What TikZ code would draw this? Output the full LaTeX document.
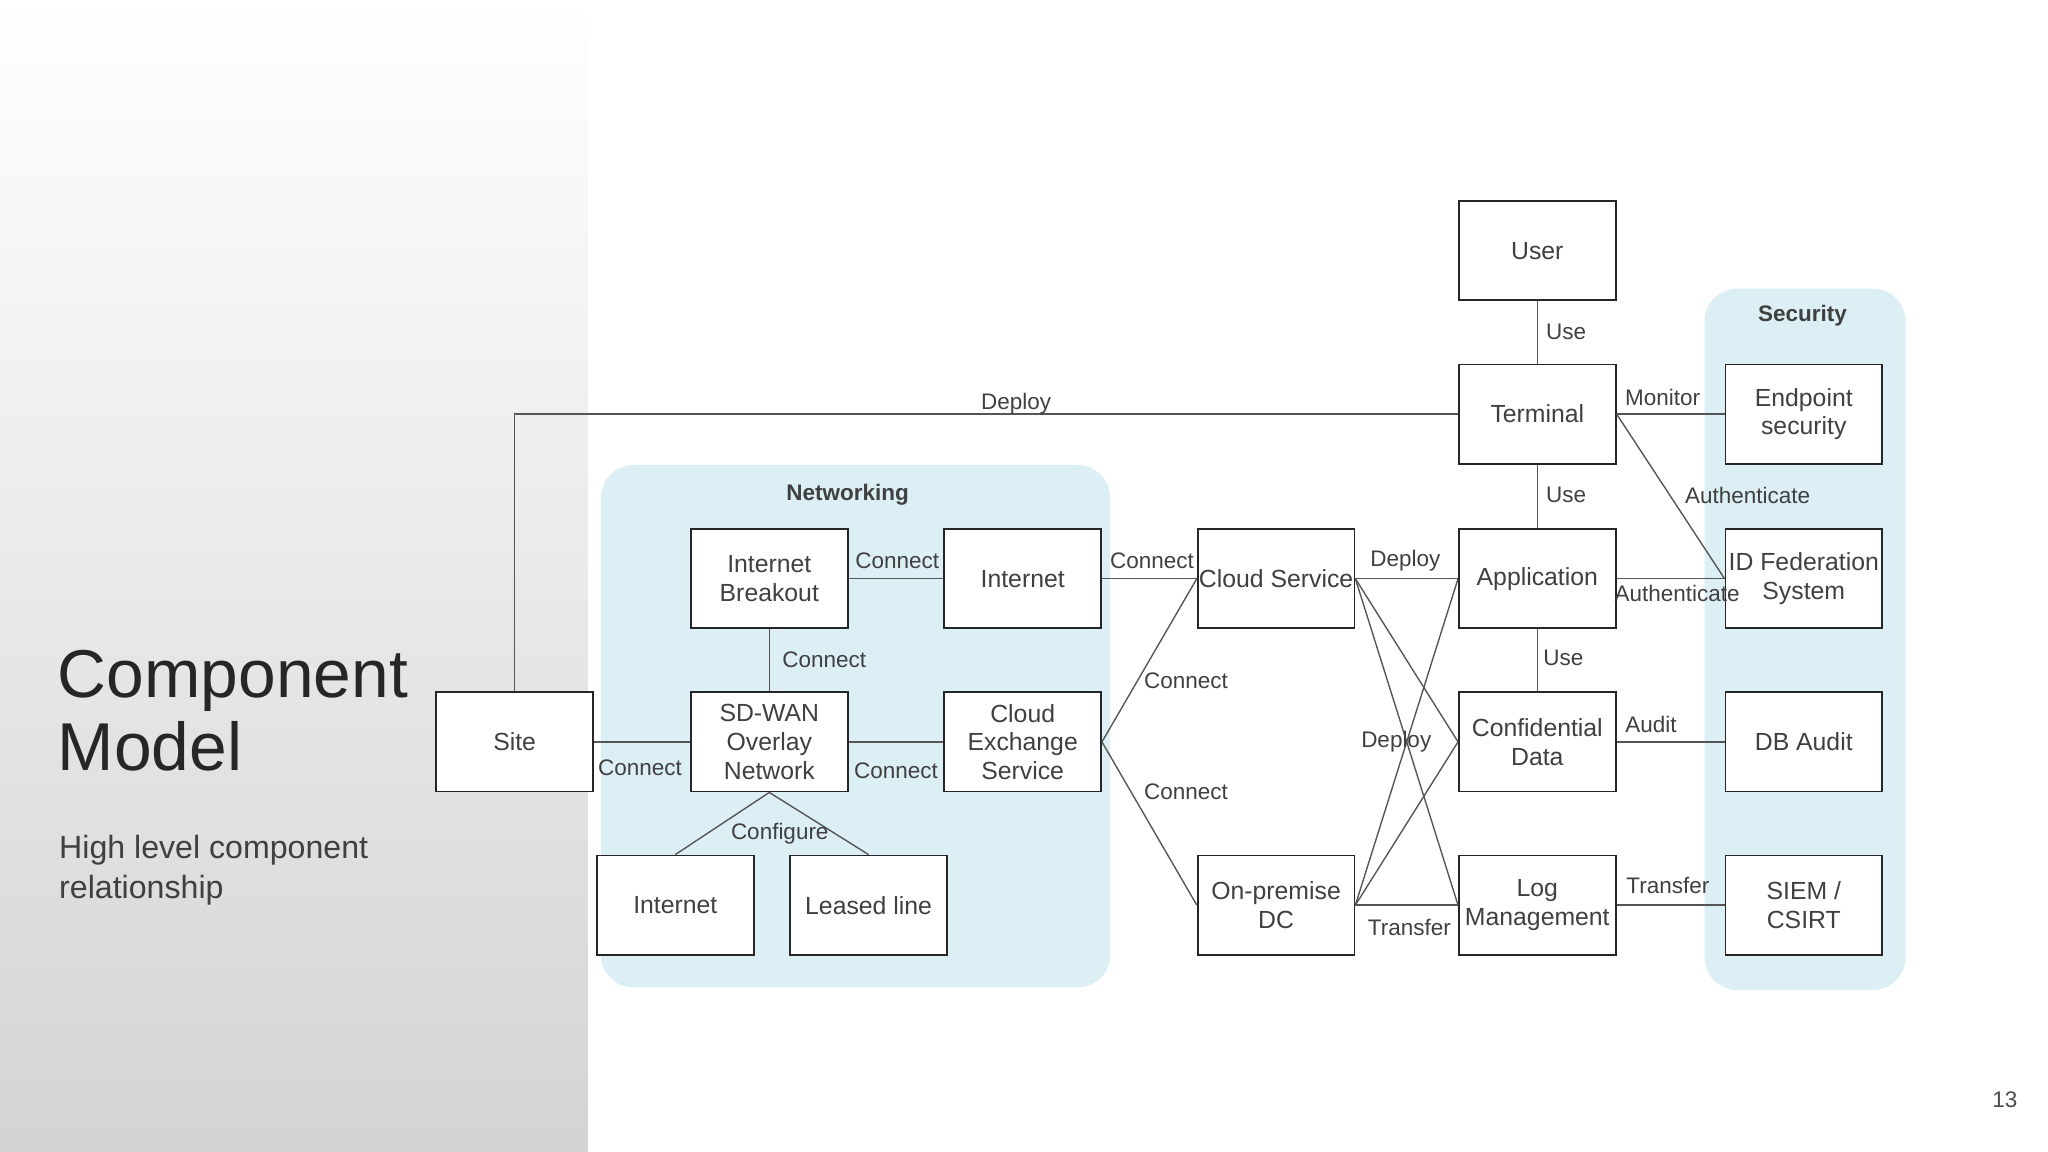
\documentclass[tikz,border=0pt]{standalone}
\usepackage{fontspec}
\setmainfont{Liberation Sans}
\definecolor{region}{HTML}{DBEFF5}
\definecolor{txt}{HTML}{404040}
\definecolor{ln}{HTML}{555555}
\begin{document}
\begin{tikzpicture}[x=0.02cm,y=-0.02cm,
  box/.style={draw=black!85,line width=0.8pt,fill=white,minimum width=2.4cm,minimum height=1.52cm,inner sep=0pt,align=center,font=\fontsize{10.8}{12.5}\selectfont,text=txt},
  lbl/.style={inner sep=0pt,font=\fontsize{9.8}{11}\selectfont,text=txt},
  conn/.style={draw=ln,line width=0.6pt}]
\useasboundingbox (0,0) rectangle (1568,882);
\shade[shading angle=30,top color=white,bottom color=black!17] (0,0) rectangle (450,882);
% regions
\fill[region,rounded corners=0.5cm] (460,356) rectangle (850,756);
\fill[region,rounded corners=0.5cm] (1305,221) rectangle (1459,758);
\node[lbl,font=\bfseries\fontsize{9.8}{11}\selectfont] (netlbl) at (649,379) {Networking};
\node[lbl,font=\bfseries\fontsize{9.8}{11}\selectfont] (seclbl) at (1380,242) {Security};
% titles
\node[anchor=west,inner sep=0pt,align=left,text=black!85,font=\fontsize{29.5}{32}\selectfont] (title) at (44,544) {Component\\Model};
\node[anchor=west,inner sep=0pt,align=left,text=txt,font=\fontsize{14}{17.5}\selectfont] (sub) at (45,666) {High level component\\relationship};
\node[lbl,text=black!70] (page) at (1535,842) {13};
% boxes
\node[box] (user) at (1177,192) {User};
\node[box] (term) at (1177,317) {Terminal};
\node[box] (app) at (1177,443) {Application};
\node[box] (conf) at (1177,568) {Confidential\\Data};
\node[box] (log) at (1177,693) {Log\\Management};
\node[box] (endp) at (1381,317) {Endpoint\\security};
\node[box] (idf) at (1381,443) {ID Federation\\System};
\node[box] (dba) at (1381,568) {DB Audit};
\node[box] (siem) at (1381,693) {SIEM /\\CSIRT};
\node[box] (cloud) at (977,443) {Cloud Service};
\node[box] (onp) at (977,693) {On-premise\\DC};
\node[box] (inet) at (783,443) {Internet};
\node[box] (cex) at (783,568) {Cloud\\Exchange\\Service};
\node[box] (brk) at (589,443) {Internet\\Breakout};
\node[box] (sdw) at (589,568) {SD-WAN\\Overlay\\Network};
\node[box] (inet2) at (517,693) {Internet};
\node[box] (lease) at (665,693) {Leased line};
\node[box] (site) at (394,568) {Site};
% connectors
\draw[conn] (site.north) |- (term.west);
\draw[conn] (user) -- (term);
\draw[conn] (term) -- (app);
\draw[conn] (app) -- (conf);
\draw[conn] (term.east) -- (endp.west);
\draw[conn] (term.east) -- (idf.west);
\draw[conn] (app) -- (idf);
\draw[conn] (conf) -- (dba);
\draw[conn] (log) -- (siem);
\draw[conn] (cloud) -- (app);
\draw[conn] (cloud.east) -- (conf.west);
\draw[conn] (cloud.east) -- (log.west);
\draw[conn] (onp.east) -- (app.west);
\draw[conn] (onp.east) -- (conf.west);
\draw[conn] (onp) -- (log);
\draw[conn] (inet) -- (cloud);
\draw[conn] (cex.east) -- (cloud.west);
\draw[conn] (cex.east) -- (onp.west);
\draw[conn] (brk) -- (inet);
\draw[conn] (brk) -- (sdw);
\draw[conn] (sdw) -- (cex);
\draw[conn] (site) -- (sdw);
\draw[conn] (sdw.south) -- (inet2.north);
\draw[conn] (sdw.south) -- (lease.north);
% redraw boxes over crossing lines
\foreach \n in {brk,sdw,inet,cex,cloud,onp,app,conf,log,idf} {}
% labels
\node[lbl] (l1) at (778,309) {Deploy};
\node[lbl] (l2) at (1199,254) {Use};
\node[lbl] (l3) at (1199,379) {Use};
\node[lbl] (l4) at (1197,504) {Use};
\node[lbl] (l5) at (1273,304) {Monitor};
\node[lbl] (l6) at (1338,379) {Authenticate};
\node[lbl] (l7) at (1284,454) {Authenticate};
\node[lbl] (l8) at (1264,555) {Audit};
\node[lbl] (l9) at (1277,678) {Transfer};
\node[lbl] (l10) at (1076,429) {Deploy};
\node[lbl] (l11) at (1069,568) {Deploy};
\node[lbl] (l12) at (1079,710) {Transfer};
\node[lbl] (l13) at (882,429) {Connect};
\node[lbl] (l14) at (908,521) {Connect};
\node[lbl] (l15) at (908,606) {Connect};
\node[lbl] (l16) at (687,429) {Connect};
\node[lbl] (l17) at (631,505) {Connect};
\node[lbl] (l18) at (686,590) {Connect};
\node[lbl] (l19) at (490,588) {Connect};
\node[lbl] (l20) at (597,638) {Configure};
\end{tikzpicture}
\end{document}
